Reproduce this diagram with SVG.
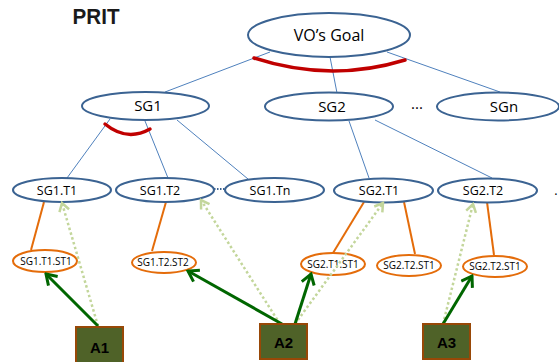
<svg xmlns="http://www.w3.org/2000/svg" width="559" height="362" viewBox="0 0 559 362">
<defs>
<style>
.bl{fill:#fff;stroke:#3b6392;stroke-width:2}
.or{fill:#fff;stroke:#e46c0a;stroke-width:2}
.ln{stroke:#4f81bd;stroke-width:1;fill:none}
.ol{stroke:#e46c0a;stroke-width:2;fill:none}
.red{stroke:#c00000;stroke-width:3.5;fill:none;stroke-linecap:round}
.sg{stroke:#006600;stroke-width:3;fill:none;marker-end:url(#ah)}
.dg{stroke:#c3d69b;stroke-width:2.5;stroke-dasharray:2.5 2.5;fill:none;marker-end:url(#ahl)}
.box{fill:#4f6228;stroke:#984807;stroke-width:2}
text{font-family:"Open Sans","Liberation Sans",sans-serif;fill:#000;text-anchor:middle}
.t1{font-size:15px}
.t2{font-size:12.5px}
.t3{font-size:10px}
.tb{font-family:"Liberation Sans",sans-serif;font-weight:bold;font-size:15px}
</style>
<marker id="ah" markerUnits="userSpaceOnUse" viewBox="-12 -8 14 16" refX="0" refY="0" markerWidth="14" markerHeight="16" orient="auto">
<path d="M-10,-6.5 L0,0 L-10,6.5" fill="none" stroke="#006600" stroke-width="3"/>
</marker>
<marker id="ahl" markerUnits="userSpaceOnUse" viewBox="-12 -8 14 16" refX="0" refY="0" markerWidth="14" markerHeight="16" orient="auto">
<path d="M-8,-5 L0,0 L-8,5" fill="none" stroke="#c3d69b" stroke-width="2.5"/>
</marker>
</defs>
<rect width="559" height="362" fill="#fff"/>
<text x="96" y="24" style="font-family:'Liberation Sans',sans-serif;font-weight:bold;font-size:22px;fill:#1a1a1a" textLength="47" lengthAdjust="spacingAndGlyphs">PRIT</text>
<g id="connectors">
<line class="ln" x1="270" y1="52" x2="165" y2="92"/>
<line class="ln" x1="330" y1="57" x2="337" y2="93"/>
<line class="ln" x1="387" y1="52" x2="500" y2="92"/>
<line class="ln" x1="110" y1="119" x2="67" y2="178"/>
<line class="ln" x1="145" y1="121" x2="168" y2="178"/>
<line class="ln" x1="177" y1="120" x2="248" y2="179"/>
<line class="ln" x1="349" y1="121" x2="369" y2="178"/>
<line class="ln" x1="375" y1="120" x2="492" y2="178"/>
<path class="red" d="M254,58 Q330,83 405,60"/>
<path class="red" d="M105,124 Q127,142 150,129"/>
<line class="ol" x1="44" y1="202" x2="31" y2="250"/>
<line class="ol" x1="166" y1="202" x2="152" y2="251"/>
<line class="ol" x1="364" y1="202" x2="333" y2="253"/>
<line class="ol" x1="404" y1="202" x2="415" y2="254"/>
<line class="ol" x1="487" y1="202" x2="494" y2="255"/>
<line x1="214" y1="189" x2="225" y2="189" stroke="#3b6392" stroke-width="2" stroke-dasharray="1.5 1.5"/>
</g>
<g id="vo-goal"><ellipse class="bl" cx="329" cy="35" rx="81" ry="22"/><text class="t1" x="329" y="41" style="font-size:16px">VO’s Goal</text></g>
<g id="sg1"><ellipse class="bl" cx="145.5" cy="106" rx="63.5" ry="14"/><text class="t1" x="148" y="111">SG1</text></g>
<g id="sg2"><ellipse class="bl" cx="329" cy="106.5" rx="64" ry="14"/><text class="t1" x="332" y="112">SG2</text></g>
<text class="t1" x="417" y="109">...</text>
<g id="sgn"><ellipse class="bl" cx="498" cy="106.5" rx="61" ry="14"/><text class="t1" x="504" y="112">SGn</text></g>
<g id="sg1-t1"><ellipse class="bl" cx="62" cy="190" rx="49" ry="12"/><text class="t2" x="57" y="195">SG1.T1</text></g>
<g id="sg1-t2"><ellipse class="bl" cx="165" cy="190" rx="49" ry="12"/><text class="t2" x="160" y="195">SG1.T2</text></g>
<g id="sg1-tn"><ellipse class="bl" cx="274.5" cy="190" rx="49.5" ry="12"/><text class="t2" x="270" y="195">SG1.Tn</text></g>
<g id="sg2-t1"><ellipse class="bl" cx="383.5" cy="190.5" rx="49.5" ry="12"/><text class="t2" x="379" y="195">SG2.T1</text></g>
<g id="sg2-t2"><ellipse class="bl" cx="487.5" cy="190.5" rx="49.5" ry="12"/><text class="t2" x="483" y="195">SG2.T2</text></g>
<text class="t2" x="556" y="195">.</text>
<g id="sg1-t1-st1"><ellipse class="or" cx="45" cy="261" rx="32" ry="11"/><text class="t3" x="46" y="265">SG1.T1.ST1</text></g>
<g id="sg1-t2-st2"><ellipse class="or" cx="164" cy="262.5" rx="32" ry="10.5"/><text class="t3" x="163" y="266">SG1.T2.ST2</text></g>
<g id="sg2-t1-st1"><ellipse class="or" cx="333" cy="264" rx="32" ry="11"/><text class="t3" x="333" y="268">SG2.T1.ST1</text></g>
<g id="sg2-t2-st1a"><ellipse class="or" cx="409" cy="265.5" rx="32" ry="10.5"/><text class="t3" x="409" y="269">SG2.T2.ST1</text></g>
<g id="sg2-t2-st1b"><ellipse class="or" cx="495" cy="266.5" rx="32" ry="10.5"/><text class="t3" x="495" y="270">SG2.T2.ST1</text></g>
<g id="arrows">
<line class="dg" x1="98" y1="326" x2="62" y2="203"/>
<line class="dg" x1="280" y1="324" x2="201" y2="200"/>
<line class="dg" x1="295" y1="324" x2="383" y2="203"/>
<line class="dg" x1="443" y1="324" x2="473" y2="204"/>
<line class="sg" x1="98" y1="326" x2="46" y2="274"/>
<line class="sg" x1="282" y1="324" x2="188" y2="271"/>
<line class="sg" x1="295" y1="324" x2="311" y2="274"/>
<line class="sg" x1="443" y1="324" x2="472" y2="276"/>
</g>
<g id="a1"><rect class="box" x="76" y="327" width="47" height="36"/><text class="tb" x="99.5" y="353">A1</text></g>
<g id="a2"><rect class="box" x="260" y="324" width="47" height="35"/><text class="tb" x="283.5" y="348">A2</text></g>
<g id="a3"><rect class="box" x="423" y="324" width="47" height="35"/><text class="tb" x="446.5" y="348">A3</text></g>
</svg>
